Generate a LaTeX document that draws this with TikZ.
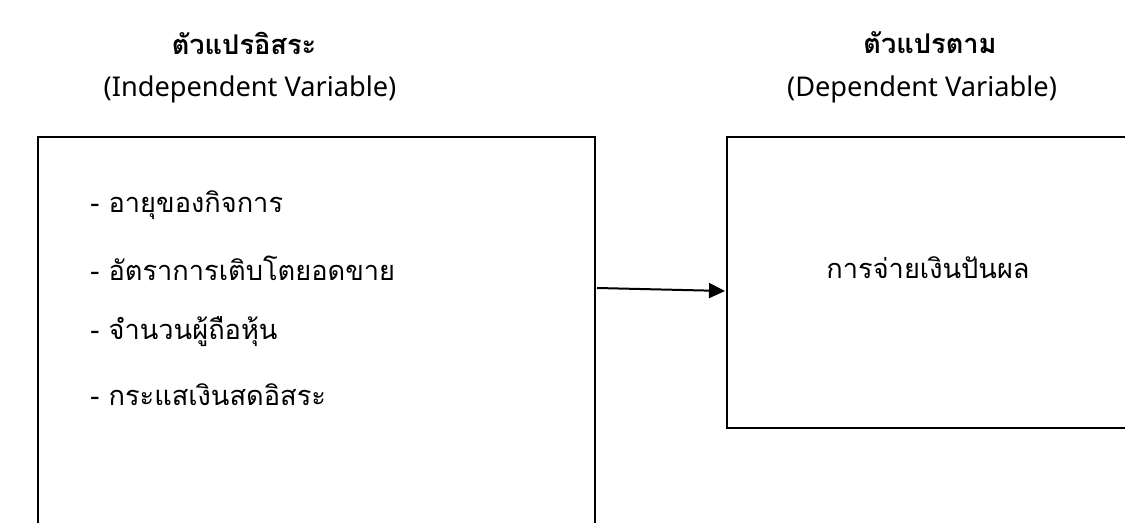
\documentclass[tikz,border=0pt]{standalone}
\usepackage{fontspec}
\setmainfont{Noto Sans}
\newfontfamily\thaifont[Script=Thai]{Loma}
\usetikzlibrary{arrows.meta}
\tikzset{
  box/.style={draw=black, line width=1.3pt, rectangle, inner sep=0pt},
  thai/.style={font=\thaifont\fontsize{13.6pt}{16pt}\selectfont, inner sep=0pt},
  thaib/.style={font=\thaifont\bfseries\fontsize{13.6pt}{16pt}\selectfont, inner sep=0pt},
  latin/.style={font=\fontsize{13.6pt}{16pt}\selectfont, inner sep=0pt},
  item/.style={thai, anchor=west},
  link/.style={line width=1pt, -{Triangle[length=8pt, width=7.5pt]}}
}
\begin{document}
\begin{tikzpicture}[x=0.5pt, y=-0.5pt]
\useasboundingbox (0,0) rectangle (1125,523);
\fill[white] (0,0) rectangle (1125,523);
% boxes
\node[box, minimum width=278.5pt, minimum height=212pt] (lbox) at (316.5,349) {};
\node[box, minimum width=220pt, minimum height=145.5pt] (rbox) at (947,282.5) {};
% headings
\node[thaib] (h1) at (244,43) {ตัวแปรอิสระ};
\node[latin] (s1) at (250,89) {(Independent Variable)};
\node[thaib] (h2) at (930,43) {ตัวแปรตาม};
\node[latin] (s2) at (922,89) {(Dependent Variable)};
% items
\node[item] (i1) at (90,205) {- อายุของกิจการ};
\node[item] (i2) at (90,268) {- อัตราการเติบโตยอดขาย};
\node[item] (i3) at (90,332) {- จำนวนผู้ถือหุ้น};
\node[item] (i4) at (90,395) {- กระแสเงินสดอิสระ};
\node[thai] (r1) at (928,268) {การจ่ายเงินปันผล};
% arrow
\coordinate (a1) at (597,288);
\coordinate (a2) at (725,291);
\draw[link] (a1) -- (a2);
\end{tikzpicture}
\end{document}
